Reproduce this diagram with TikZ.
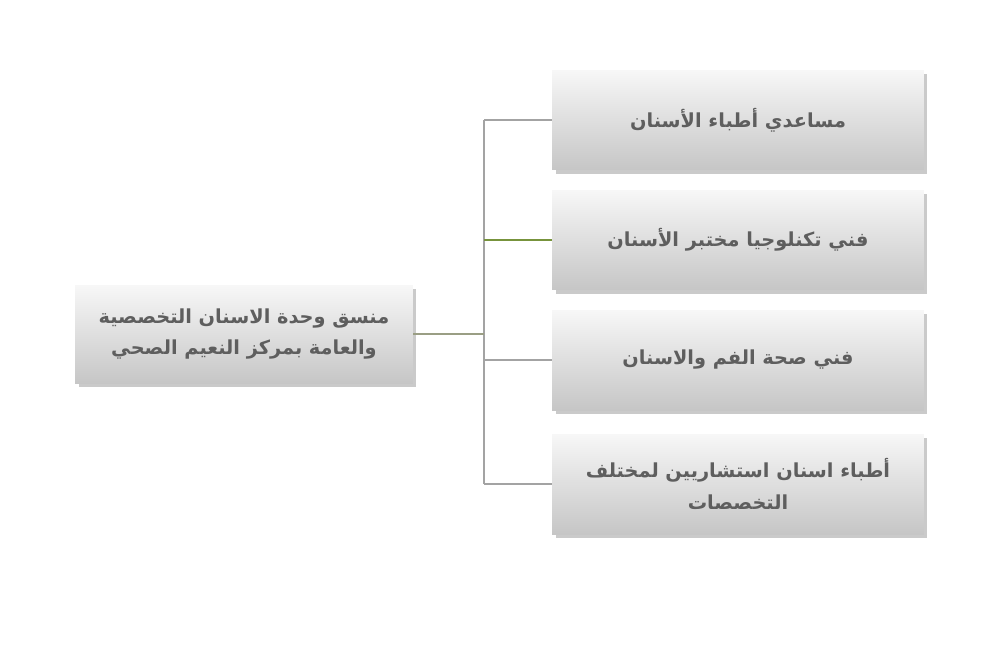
\documentclass[tikz,border=0pt]{standalone}
\usepackage{fontspec}
\TeXXeTstate=1
\newfontfamily\arabicfont[Script=Arabic]{DejaVu Sans}
\usetikzlibrary{shadows}
\definecolor{box_top}{HTML}{F7F7F7}
\definecolor{box_bottom}{HTML}{C6C6C6}
\definecolor{label_gray}{HTML}{5E5E5E}
\definecolor{trunk_gray}{HTML}{A3A3A3}
\definecolor{lead_olive}{HTML}{9A9E84}
\definecolor{branch_green}{HTML}{77933C}
\begin{document}
\begin{tikzpicture}[x=0.02cm,y=-0.02cm,
    grad_box/.style={rectangle,top color=box_top,bottom color=box_bottom,
      drop shadow={shadow xshift=2pt,shadow yshift=-2pt,opacity=0.35,fill=black!60},
      text=label_gray,font=\arabicfont\bfseries\fontsize{11}{18}\selectfont,align=center},
    lead_box/.style={grad_box,minimum width=6.76cm,minimum height=1.96cm},
    role_box/.style={grad_box,minimum width=7.44cm,minimum height=2cm},
    lead_edge/.style={lead_olive,line width=1.2pt},
    trunk_edge/.style={trunk_gray,line width=1.2pt},
    branch_edge/.style={trunk_gray,line width=1.2pt},
    green_edge/.style={branch_green,line width=1.2pt}]
  \useasboundingbox (0,0) rectangle (1000,667);
\node[lead_box] (lead) at (244,334) {\beginR منسق وحدة الاسنان التخصصية\endR\\\beginR والعامة بمركز النعيم الصحي\endR};
\node[role_box] (r1) at (738,120) {\beginR مساعدي أطباء الأسنان\endR};
\node[role_box] (r2) at (738,240) {\beginR فني تكنلوجيا مختبر الأسنان\endR};
\node[role_box] (r3) at (738,360) {\beginR فني صحة الفم والاسنان\endR};
\node[role_box] (r4) at (738,484) {\beginR أطباء اسنان استشاريين لمختلف\endR\\\beginR التخصصات\endR};
\coordinate (j) at (484,334);
  \draw[trunk_edge] (j |- r1.west) -- (j |- r4.west);
  \draw[lead_edge] (lead.east) -- (j);
  \draw[branch_edge] (j |- r1.west) -- (r1.west);
  \draw[green_edge] (j |- r2.west) -- (r2.west);
  \draw[branch_edge] (j |- r3.west) -- (r3.west);
  \draw[branch_edge] (j |- r4.west) -- (r4.west);
\end{tikzpicture}
\end{document}
